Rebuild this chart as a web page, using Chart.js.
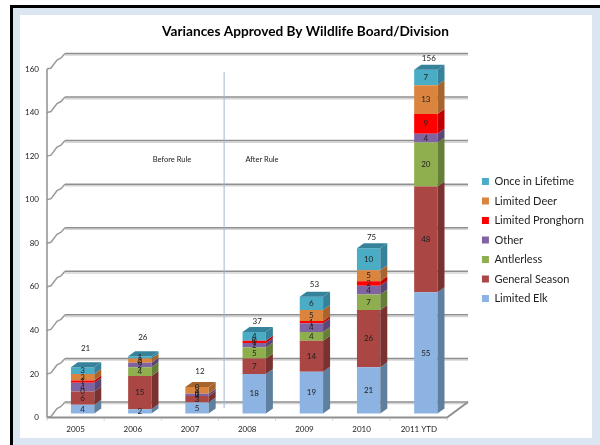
<!DOCTYPE html>
<html><head><meta charset="utf-8">
<script src="https://cdn.jsdelivr.net/npm/chart.js@4"></script>
<style>
html,body{margin:0;padding:0;background:#fff;width:600px;height:445px;overflow:hidden}
#frame{position:absolute;left:10px;top:5px;width:590px;height:440px;background:#dce6f2;border-left:3px solid #000;border-top:3px solid #000;box-sizing:border-box}
#inner{position:absolute;left:20px;top:15px;width:572px;height:423px;background:#fff}
#wrap{position:absolute;left:0;top:0;width:600px;height:445px}
</style></head><body>
<div id="frame"></div><div id="inner"></div>
<div id="wrap"><canvas id="c" width="600" height="445"></canvas></div>
<script>
const categories=['2005','2006','2007','2008','2009','2010','2011 YTD'];
const limitedElk=[4,2,5,18,19,21,55];
const generalSeason=[6,15,3,7,14,26,48];
const antlerless=[0,4,0,5,4,7,20];
const other=[4,2,1,2,4,4,4];
const limitedPronghorn=[1,0,0,1,1,2,9];
const limitedDeer=[3,2,3,0,5,5,13];
const onceInLifetime=[3,1,0,4,6,10,7];
const totals=[21,26,12,37,53,75,156];
const yTicks={min:0,max:160,step:20};
const titleText='Variances Approved By Wildlife Board/Division';
const beforeLabel='Before Rule', afterLabel='After Rule';

const FONT='Lato, "Open Sans", sans-serif';
const DEPTH={x:7,y:5};
const BACK={x:18,y:15.5};
const totalGap=[19,19,16,11,12,11,11];
const LEG={dx:19,dy:17.5};

const datasets=[
 ['Limited Elk',limitedElk,'#8DB3E2','#5F7F9F'],
 ['General Season',generalSeason,'#AA4643','#7A3230'],
 ['Antlerless',antlerless,'#8FAE4E','#667F38'],
 ['Other',other,'#8064A2','#5B4775'],
 ['Limited Pronghorn',limitedPronghorn,'#FF0000','#C00000'],
 ['Limited Deer',limitedDeer,'#DB843D','#A7642D'],
 ['Once in Lifetime',onceInLifetime,'#4BACC6','#36829A']
].map(([label,data,c,side])=>({label,data,backgroundColor:c,borderWidth:0,sideColor:side,yAxisID:'y2',xAxisID:'x',barPercentage:.408,categoryPercentage:1}));

const stage={
 id:'stage',
 afterLayout(chart){
  const l=chart.legend; l.top+=LEG.dy; l.bottom+=LEG.dy; l.left+=LEG.dx; l.right+=LEG.dx;
  const t=chart.titleBlock; t.left+=18; t.right+=18;
 },
 beforeDatasetsDraw(chart){
  const ctx=chart.ctx, y=chart.scales.y, x=chart.scales.x;
  const fx=47, bx=fx+BACK.x, endX=468, frontEnd=447;
  ctx.save();
  for(let v=yTicks.min;v<=yTicks.max;v+=yTicks.step){
   const py=y.getPixelForValue(v), by=py-BACK.y;
   ctx.strokeStyle='#d4d4d4';ctx.lineWidth=1.5;
   ctx.beginPath();ctx.moveTo(bx,by+1.6);ctx.lineTo(endX,by+1.6);ctx.stroke();
   ctx.strokeStyle='#8f8f8f';ctx.lineWidth=1.5;
   ctx.beginPath();ctx.moveTo(bx,by);ctx.lineTo(endX,by);ctx.stroke();
   ctx.strokeStyle='#9a9a9a';ctx.lineWidth=1.5;
   ctx.beginPath();ctx.moveTo(fx,py);ctx.lineTo(fx+4,py-1);ctx.lineTo(fx+10,py-9);ctx.lineTo(fx+14,py-11);ctx.lineTo(bx,by);ctx.stroke();
  }
  const y0=y.getPixelForValue(0), yT=y.getPixelForValue(yTicks.max);
  ctx.strokeStyle='#8f8f8f';ctx.lineWidth=1.5;
  ctx.beginPath();ctx.moveTo(fx,yT);ctx.lineTo(fx,y0);ctx.stroke();
  ctx.lineWidth=2;ctx.beginPath();ctx.moveTo(fx,y0);ctx.lineTo(frontEnd,y0);ctx.lineTo(endX,y0-BACK.y);ctx.stroke();
  ctx.lineWidth=1;ctx.strokeStyle='#c8c8c8';
  for(let i=0;i<=categories.length;i++){
   const tx=fx+(frontEnd-fx)*i/categories.length;
   ctx.beginPath();ctx.moveTo(tx,y0+1);ctx.lineTo(tx,y0+3);ctx.stroke();
  }
  ctx.strokeStyle='#a3b8d1';ctx.lineWidth=1;
  const ruleX=x.getPixelForValue(2.5)-2;
  ctx.beginPath();ctx.moveTo(ruleX+.5,72);ctx.lineTo(ruleX+.5,408);ctx.stroke();
  ctx.fillStyle='#222';ctx.font='7.5px '+FONT;ctx.textAlign='center';ctx.textBaseline='middle';
  ctx.fillText(beforeLabel,172,160);ctx.fillText(afterLabel,262,160);
  ctx.restore();
 },
 afterDatasetsDraw(chart){
  const ctx=chart.ctx;
  ctx.save();
  const n=categories.length;
  for(let i=0;i<n;i++){
   let top=null;
   chart.data.datasets.forEach((ds,d)=>{
    const b=chart.getDatasetMeta(d).data[i];
    const {x,y,base,width}=b.getProps(['x','y','base','width'],true);
    const r=x+width/2;
    if(ds.data[i]>0){
     ctx.fillStyle=ds.sideColor;
     ctx.beginPath();ctx.moveTo(r,y);ctx.lineTo(r+DEPTH.x,y-DEPTH.y);ctx.lineTo(r+DEPTH.x,base-DEPTH.y);ctx.lineTo(r,base);ctx.closePath();ctx.fill();
     top={x,y,width,ds};
    }
   });
   if(top){
    const l=top.x-top.width/2,r=top.x+top.width/2;
    ctx.fillStyle=top.ds.sideColor;
    ctx.beginPath();ctx.moveTo(l,top.y);ctx.lineTo(l+DEPTH.x,top.y-DEPTH.y);ctx.lineTo(r+DEPTH.x,top.y-DEPTH.y);ctx.lineTo(r,top.y);ctx.closePath();ctx.fill();
    ctx.fillStyle='#222';ctx.font='8px '+FONT;ctx.textAlign='center';ctx.textBaseline='middle';
    ctx.fillText(String(totals[i]),top.x+3,top.y-totalGap[i]);
   }
   chart.data.datasets.forEach((ds,d)=>{
    const b=chart.getDatasetMeta(d).data[i];
    const {x,y,base}=b.getProps(['x','y','base'],true);
    ctx.fillStyle='#222';ctx.font='8px '+FONT;ctx.textAlign='center';ctx.textBaseline='middle';
    ctx.fillText(String(ds.data[i]),x,(y+base)/2);
   });
  }
  ctx.restore();
 }
};
new Chart(document.getElementById('c'),{
 type:'bar',
 data:{labels:categories,datasets},
 plugins:[stage],
 options:{
  responsive:false,animation:false,
  layout:{padding:{left:0,right:25,top:0,bottom:0}},
  plugins:{
   tooltip:{enabled:false},
   title:{display:true,text:titleText,color:'#000',font:{family:FONT,size:13.65,weight:'bold'},padding:{top:23,bottom:29.6}},
   legend:{position:'right',reverse:true,labels:{reverse:true,boxWidth:7,boxHeight:7,padding:8.5,color:'#222',font:{family:FONT,size:11}}}
  },
  scales:{
   x:{stacked:true,offset:true,grid:{display:false,drawTicks:false},border:{display:false},
      ticks:{labelOffset:-7,maxRotation:0,autoSkip:false,padding:7,color:'#222',font:{family:FONT,size:8}},
      afterFit(s){s.height=27.5;}},
   y:{min:yTicks.min,max:yTicks.max,grid:{display:false,drawTicks:false},border:{display:false},
      ticks:{stepSize:yTicks.step,padding:15,color:'#222',font:{family:FONT,size:8}},
      afterFit(s){s.width=54;}},
   y2:{display:false,stacked:true,min:-1.8,max:156.4}
  }
 }
});
</script>
</body></html>
